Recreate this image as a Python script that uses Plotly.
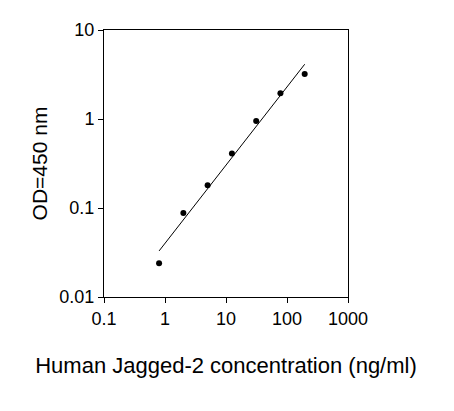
import numpy as np
import plotly.graph_objects as go

conc = [0.8, 2, 5, 12.5, 31.25, 78, 195]
od = [0.024, 0.088, 0.18, 0.41, 0.95, 1.95, 3.2]

lx, ly = np.log10(conc), np.log10(od)
slope, icpt = np.polyfit(lx, ly, 1)
fx = np.array([conc[0], conc[-1]])
fy = 10 ** (icpt + slope * np.log10(fx))

fig = go.Figure()
fig.add_trace(go.Scatter(x=fx, y=fy, mode="lines", line=dict(color="black", width=1), showlegend=False))
fig.add_trace(go.Scatter(x=conc, y=od, mode="markers", marker=dict(color="black", size=6), showlegend=False))
ax = dict(type="log", showgrid=False, zeroline=False, showline=True, linecolor="black", linewidth=1,
          mirror=True, ticks="outside", ticklen=5, tickcolor="black",
          tickfont=dict(family="Liberation Sans, Arial", size=18, color="black"))
fig.update_layout(
    width=454, height=411, margin=dict(l=96, r=114, t=22, b=122),
    paper_bgcolor="white", plot_bgcolor="white",
    xaxis=dict(ax, range=[-1, 3], tickvals=[0.1, 1, 10, 100, 1000], ticktext=["0.1", "1", "10", "100", "1000"],
               title=dict(text="Human Jagged-2 concentration (ng/ml)", standoff=30,
                          font=dict(family="Liberation Sans, Arial", size=22, color="black"))),
    yaxis=dict(ax, range=[-2, 1], tickvals=[0.01, 0.1, 1, 10], ticktext=["0.01", "0.1", "1", "10"],
               title=dict(text="OD=450 nm", standoff=6,
                          font=dict(family="Liberation Sans, Arial", size=21, color="black"))),
)
fig.write_html("out.html")
